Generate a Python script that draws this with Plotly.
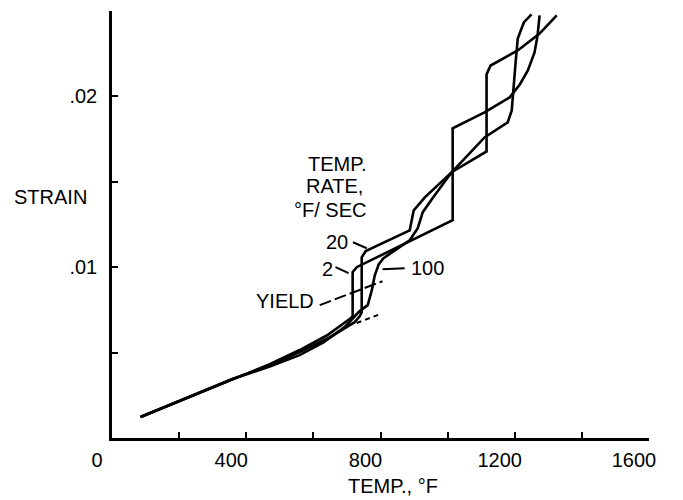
import plotly.graph_objects as go

# ---- data ----
temp_2 = [85, 359, 470, 559, 640, 708, 717, 717, 729, 1015, 1015, 1110, 1185, 1215, 1239, 1259, 1268, 1274]
strain_2 = [0.00123, 0.00345, 0.00432, 0.00515, 0.00600, 0.00696, 0.00713, 0.00971, 0.0100, 0.01275, 0.01813,
            0.01906, 0.01994, 0.0207, 0.02152, 0.02257, 0.02357, 0.02474]

temp_20 = [85, 359, 470, 559, 650, 723, 738, 744, 744, 756, 887, 899, 932, 1012, 1116, 1116, 1128, 1209, 1274, 1325]
strain_20 = [0.00123, 0.00345, 0.00425, 0.00503, 0.00590, 0.00678, 0.00713, 0.00737, 0.01058, 0.01094, 0.01216,
             0.01333, 0.01409, 0.01556, 0.01678, 0.02129, 0.02181, 0.02269, 0.02368, 0.02474]

temp_100 = [85, 359, 470, 559, 630, 693, 738, 762, 774, 783, 795, 809, 887, 911, 926, 955, 1012, 1110,
            1179, 1191, 1203, 1209, 1227, 1250]
strain_100 = [0.00123, 0.00345, 0.00418, 0.00485, 0.00560, 0.00649, 0.00743, 0.00778, 0.00865, 0.00953, 0.01018,
              0.01053, 0.01158, 0.01228, 0.01322, 0.01404, 0.01556, 0.0176, 0.01848, 0.01918,
              0.0221, 0.02339, 0.02433, 0.0248]

elastic_ext_temp = [729, 798]
elastic_ext_strain = [0.00673, 0.00725]

yield_temp = [619, 806]
yield_strain = [0.00778, 0.00918]

x_tick_vals = [0, 200, 400, 600, 800, 1000, 1200, 1400, 1600]
x_tick_text = ["0", "", "400", "", "800", "", "1200", "", "1600"]
y_tick_vals = [0, 0.005, 0.01, 0.015, 0.02, 0.025]
y_tick_text = ["", "", ".01", "", ".02", ""]

FONT = "Liberation Sans"
LW = 2.6

fig = go.Figure()
for t, s in [(temp_2, strain_2), (temp_20, strain_20), (temp_100, strain_100)]:
    fig.add_trace(go.Scatter(x=t, y=s, mode="lines",
                             line=dict(color="black", width=LW), showlegend=False))
fig.add_trace(go.Scatter(x=elastic_ext_temp, y=elastic_ext_strain, mode="lines",
                         line=dict(color="black", width=2, dash="5px,4px"), showlegend=False))
fig.add_trace(go.Scatter(x=yield_temp, y=yield_strain, mode="lines",
                         line=dict(color="black", width=2, dash="12px,4px"), showlegend=False))

# leader lines for labels
leaders = [((718, 0.01146), (759, 0.01111)),
           ((666, 0.0100), (705, 0.00965)),
           ((806, 0.00988), (872, 0.00994))]
for (x0, y0), (x1, y1) in leaders:
    fig.add_shape(type="line", x0=x0, y0=y0, x1=x1, y1=y1,
                  line=dict(color="black", width=2))

labels = [("TEMP.", 672, 0.01602), ("RATE,", 663, 0.01474), ("°F/ SEC", 651, 0.01333),
          ("20", 669, 0.01146), ("2", 642, 0.00988), ("100", 940, 0.00994),
          ("YIELD", 514, 0.00801)]
for txt, x, y in labels:
    fig.add_annotation(x=x, y=y, text=txt, showarrow=False, xanchor="center", yanchor="middle",
                       font=dict(family=FONT, size=20, color="black"))

fig.add_annotation(xref="paper", yref="paper", x=-0.1136, y=0.564, text="STRAIN",
                   showarrow=False, xanchor="center", yanchor="middle",
                   font=dict(family=FONT, size=20, color="black"))
fig.add_annotation(xref="paper", yref="paper", x=0.523, y=-0.112, text="TEMP., °F",
                   showarrow=False, xanchor="center", yanchor="middle",
                   font=dict(family=FONT, size=20, color="black"))

fig.update_xaxes(range=[0, 1600], showline=True, linecolor="black", linewidth=2.5,
                 ticks="inside", ticklen=6, tickwidth=2, tickcolor="black",
                 tickmode="array", tickvals=x_tick_vals, ticktext=x_tick_text,
                 showgrid=False, zeroline=False, ticklabelshift=-15, ticklabelstandoff=2,
                 tickfont=dict(family=FONT, size=20, color="black"))
fig.update_yaxes(range=[0, 0.025], showline=True, linecolor="black", linewidth=2.5,
                 ticks="inside", ticklen=6, tickwidth=2, tickcolor="black",
                 tickmode="array", tickvals=y_tick_vals, ticktext=y_tick_text,
                 showgrid=False, zeroline=False, ticklabelstandoff=8,
                 tickfont=dict(family=FONT, size=20, color="black"))

fig.update_layout(width=683, height=500, margin=dict(l=112, r=34, t=11, b=62),
                  plot_bgcolor="white", paper_bgcolor="white",
                  font=dict(family=FONT, color="black"))

fig.write_html("out.html")
